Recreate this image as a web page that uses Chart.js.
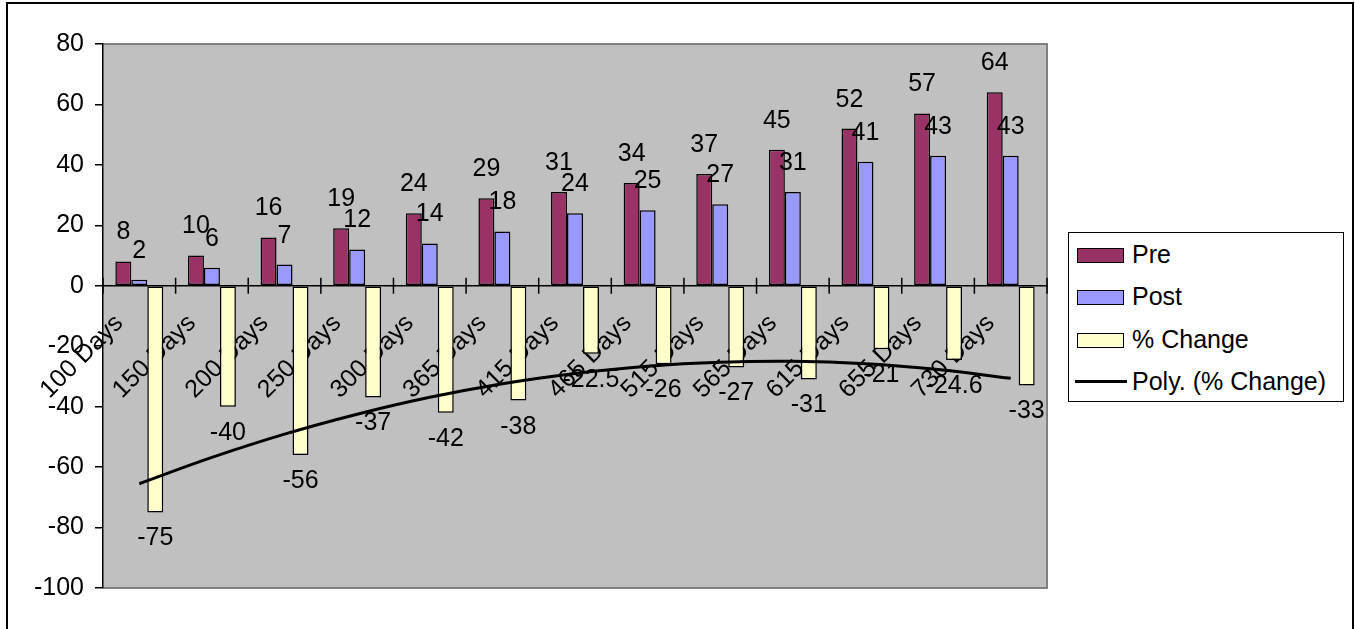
<!DOCTYPE html>
<html lang="en">
<head>
    <meta charset="UTF-8">
    <title>Pre / Post / % Change</title>
    <style>
        body {
            margin: 0;
            background: #fff;
            font-family: "Liberation Sans", Arial, sans-serif;
        }
        .moldura {
            position: absolute;
            left: 6px;
            top: 2px;
            width: 1344px;
            height: 700px;
            border: 2px solid #000;
        }
        #grafico {
            position: absolute;
            left: 0;
            top: 0;
        }
        .legenda {
            position: absolute;
            left: 1068px;
            top: 232px;
            width: 274px;
            height: 168px;
            border: 1.5px solid #000;
            background: #fff;
        }
        .item {
            position: absolute;
            left: 0;
            width: 100%;
            height: 42px;
            line-height: 42px;
            font-size: 25px;
            white-space: nowrap;
        }
        .item span.txt { position: absolute; left: 63px; top: 0; }
        .item span.cx {
            position: absolute; left: 8px; top: 15px;
            width: 45px; height: 13px; border: 1.5px solid #000;
        }
        .item span.ln {
            position: absolute; left: 6px; top: 20px;
            width: 52px; height: 3px; background: #000;
        }
    </style>
    <script src="https://cdn.jsdelivr.net/npm/chart.js"></script>
</head>
<body>
    <div class="moldura"></div>
    <canvas id="grafico" width="1355" height="629"></canvas>
    <div class="legenda" id="legenda"></div>

    <script>
        // dados
        const categorias = ['100 Days', '150 Days', '200 Days', '250 Days', '300 Days', '365 Days', '415 Days',
            '465 Days', '515 Days', '565 Days', '615 Days', '655 Days', '730 Days'];
        const valoresPre = [8, 10, 16, 19, 24, 29, 31, 34, 37, 45, 52, 57, 64];
        const valoresPost = [2, 6, 7, 12, 14, 18, 24, 25, 27, 31, 41, 43, 43];
        const valoresChange = [-75, -40, -56, -37, -42, -38, -22.5, -26, -27, -31, -21, -24.6, -33];
        const valoresTendencia = [-65.5, -56.8, -49.1, -42.5, -36.9, -32.4, -29.0, -26.6, -25.3, -25.0, -25.8, -27.7, -30.6];
        const eixoY = { min: -100, max: 80, passo: 20 };

        const fonte = '"Liberation Sans", Arial, sans-serif';

        // fundo cinza da área de plotagem
        const fundoPlot = {
            id: 'fundoPlot',
            beforeDraw(chart) {
                const { ctx, chartArea: a } = chart;
                ctx.save();
                ctx.fillStyle = '#C0C0C0';
                ctx.fillRect(a.left, a.top, a.right - a.left, a.bottom - a.top);
                ctx.strokeStyle = '#808080';
                ctx.lineWidth = 2;
                ctx.beginPath();
                ctx.moveTo(a.left, a.top);
                ctx.lineTo(a.right, a.top);
                ctx.lineTo(a.right, a.bottom);
                ctx.lineTo(a.left, a.bottom);
                ctx.stroke();
                ctx.restore();
            }
        };

        // rótulos de valor nas barras
        const rotulos = {
            id: 'rotulos',
            afterDatasetsDraw(chart) {
                const ctx = chart.ctx;
                ctx.save();
                ctx.font = '25px ' + fonte;
                ctx.fillStyle = '#000';
                ctx.textAlign = 'center';
                ctx.textBaseline = 'middle';
                chart.data.datasets.forEach((ds, i) => {
                    const meta = chart.getDatasetMeta(i);
                    if (meta.type !== 'bar') return;
                    meta.data.forEach((barra, j) => {
                        const v = ds.data[j];
                        const y = v >= 0 ? barra.y - 29 : barra.y + 26;
                        ctx.fillText(String(v), barra.x, y);
                    });
                });
                ctx.restore();
            }
        };

        // marcas do eixo de categorias cruzando a linha do zero
        const marcasX = {
            id: 'marcasX',
            afterDraw(chart) {
                const x = chart.scales.x, y = chart.scales.y;
                const ctx = chart.ctx;
                const passo = x.getPixelForValue(1) - x.getPixelForValue(0);
                const y0 = y.getPixelForValue(0);
                ctx.save();
                ctx.strokeStyle = '#000';
                ctx.lineWidth = 1.5;
                ctx.beginPath();
                for (let i = 0; i <= categorias.length; i++) {
                    const px = x.getPixelForValue(0) - passo / 2 + i * passo;
                    ctx.moveTo(px, y0 - 8);
                    ctx.lineTo(px, y0 + 8);
                }
                ctx.stroke();
                ctx.restore();
            }
        };

        const ctx = document.getElementById('grafico').getContext('2d');
        new Chart(ctx, {
            type: 'bar',
            data: {
                labels: categorias,
                datasets: [
                    { label: 'Pre', data: valoresPre, backgroundColor: '#993366', borderColor: '#000', borderWidth: 1.5, borderSkipped: false, order: 1 },
                    { label: 'Post', data: valoresPost, backgroundColor: '#9999FF', borderColor: '#000', borderWidth: 1.5, borderSkipped: false, order: 1 },
                    { label: '% Change', data: valoresChange, backgroundColor: '#FFFFCC', borderColor: '#000', borderWidth: 1.5, borderSkipped: false, order: 1 },
                    { label: 'Poly. (% Change)', type: 'line', data: valoresTendencia, borderColor: '#000', borderWidth: 3, pointRadius: 0, tension: 0.4, fill: false, order: 0 }
                ]
            },
            options: {
                responsive: false,
                animation: false,
                devicePixelRatio: 1,
                categoryPercentage: 0.66,
                barPercentage: 1,
                layout: { padding: { left: 23, right: 308, top: 44, bottom: 41 } },
                plugins: {
                    legend: { display: false },
                    tooltip: { enabled: false }
                },
                scales: {
                    x: {
                        position: { y: 0 },
                        z: 1,
                        grid: { display: false },
                        border: { color: '#000', width: 1.5 },
                        ticks: {
                            color: '#000',
                            font: { size: 25, family: fonte },
                            minRotation: 45,
                            maxRotation: 45,
                            autoSkip: false,
                            padding: 15,
                            labelOffset: -20
                        },
                        afterFit(scale) { scale.height = 0; }
                    },
                    y: {
                        min: eixoY.min,
                        max: eixoY.max,
                        grid: { drawOnChartArea: false, color: '#000', tickLength: 8, lineWidth: 1.5 },
                        border: { color: '#000', width: 1.5 },
                        ticks: {
                            stepSize: eixoY.passo,
                            color: '#000',
                            font: { size: 25, family: fonte },
                            padding: 11
                        },
                        afterFit(scale) { scale.width = 80; }
                    }
                }
            },
            plugins: [fundoPlot, rotulos, marcasX]
        });

        // legenda em HTML
        const itensLegenda = [
            { nome: 'Pre', cor: '#993366', tipo: 'cx' },
            { nome: 'Post', cor: '#9999FF', tipo: 'cx' },
            { nome: '% Change', cor: '#FFFFCC', tipo: 'cx' },
            { nome: 'Poly. (% Change)', cor: '#000', tipo: 'ln' }
        ];
        document.getElementById('legenda').innerHTML = itensLegenda.map((it, i) =>
            `<div class="item" style="top:${(i * 42.3).toFixed(1)}px"><span class="${it.tipo}" style="background:${it.cor}"></span><span class="txt">${it.nome}</span></div>`
        ).join('');
    </script>
</body>
</html>
